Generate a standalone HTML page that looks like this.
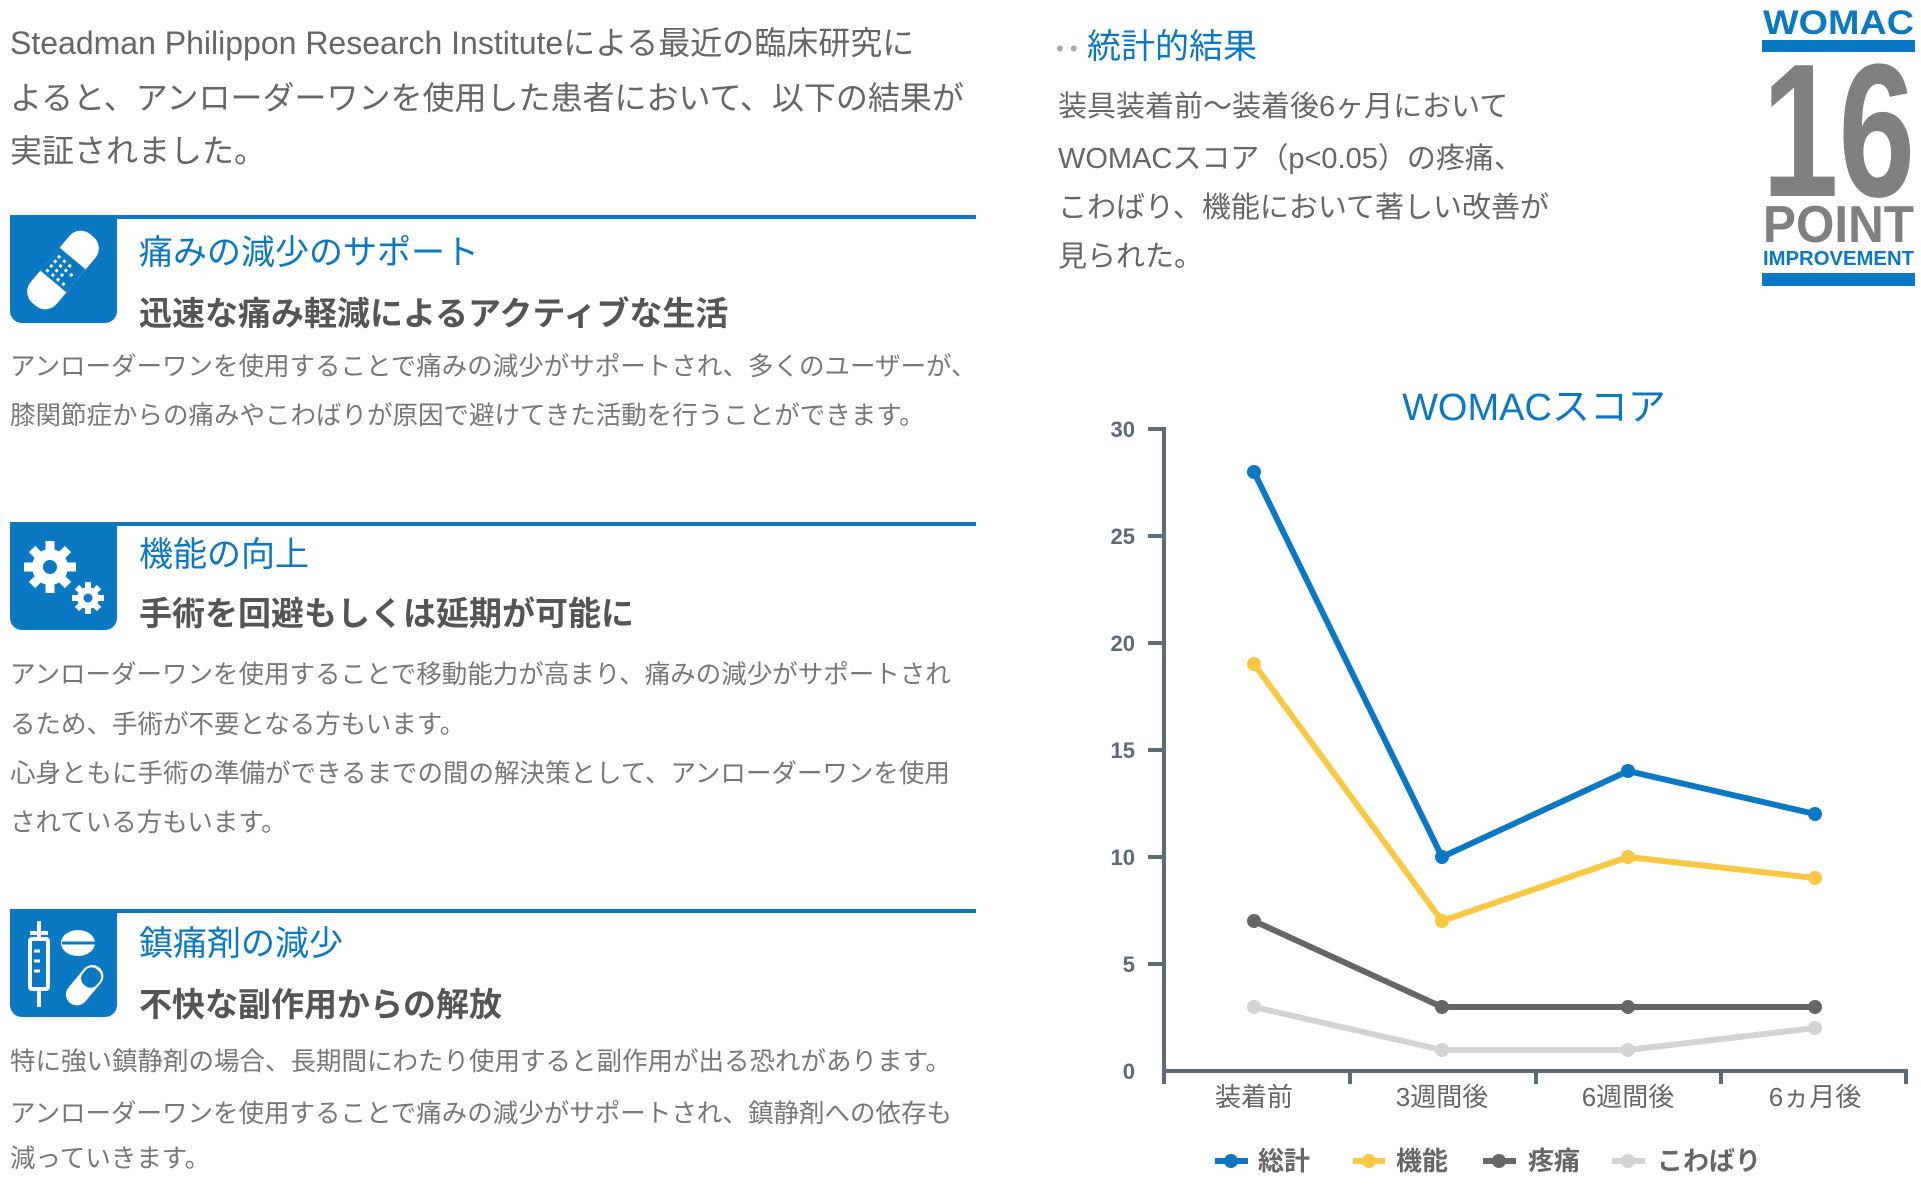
<!DOCTYPE html>
<html><head><meta charset="utf-8"><style>
html,body{margin:0;padding:0;background:#fff;}
body{width:1921px;height:1189px;position:relative;overflow:hidden;font-family:"Liberation Sans","Noto Sans CJK JP",sans-serif;}
.t{position:absolute;white-space:nowrap;line-height:1;}
.p{color:#666;font-size:32px;left:10px;}
.bl{position:absolute;left:10px;width:966px;height:4px;background:#0a78c2;}
.ic{position:absolute;left:10px;width:107px;height:106px;background:#0a78c2;border-radius:0 0 12px 12px;}
.h{color:#0a78c2;font-size:34px;left:139px;}
.s{color:#555;font-size:33px;font-weight:bold;left:139px;}
.b{color:#777;font-size:25.5px;left:10px;}
.r{color:#666;font-size:29px;left:1058px;}
</style></head><body>
<div class="t p" style="top:27px">Steadman Philippon Research Instituteによる最近の臨床研究に</div>
<div class="t p" style="top:82px">よると、アンローダーワンを使用した患者において、以下の結果が</div>
<div class="t p" style="top:135px">実証されました。</div>

<div class="bl" style="top:215px"></div>
<div class="ic" style="top:217px"><svg width="107" height="106" viewBox="0 0 107 106"><g transform="rotate(-50 53 53)"><rect x="8" y="36" width="90" height="34" rx="15" fill="#fff"/><rect x="38" y="36" width="30" height="34" fill="#0a78c2"/><g fill="#fff"><rect x="41" y="40" width="3" height="3"/><rect x="47" y="40" width="3" height="3"/><rect x="53" y="40" width="3" height="3"/><rect x="59" y="40" width="3" height="3"/><rect x="41" y="47" width="3" height="3"/><rect x="47" y="47" width="3" height="3"/><rect x="53" y="47" width="3" height="3"/><rect x="59" y="47" width="3" height="3"/><rect x="41" y="54" width="3" height="3"/><rect x="47" y="54" width="3" height="3"/><rect x="53" y="54" width="3" height="3"/><rect x="59" y="54" width="3" height="3"/><rect x="41" y="61" width="3" height="3"/><rect x="53" y="61" width="3" height="3"/></g></g></svg></div>
<div class="t h" style="top:236px">痛みの減少のサポート</div>
<div class="t s" style="top:297px">迅速な痛み軽減によるアクティブな生活</div>
<div class="t b" style="top:355px">アンローダーワンを使用することで痛みの減少がサポートされ、多くのユーザーが、</div>
<div class="t b" style="top:404px">膝関節症からの痛みやこわばりが原因で避けてきた活動を行うことができます。</div>

<div class="bl" style="top:522px"></div>
<div class="ic" style="top:524px"><svg width="107" height="106" viewBox="0 0 107 106"><g fill="#fff"><circle cx="40" cy="43" r="18"/><g stroke="#fff" stroke-width="9"><line x1="40" y1="17" x2="40" y2="69"/><line x1="14" y1="43" x2="66" y2="43"/><line x1="22" y1="25" x2="58" y2="61"/><line x1="58" y1="25" x2="22" y2="61"/></g><circle cx="78" cy="74" r="11"/><g stroke="#fff" stroke-width="6"><line x1="78" y1="58" x2="78" y2="90"/><line x1="62" y1="74" x2="94" y2="74"/><line x1="67" y1="63" x2="89" y2="85"/><line x1="89" y1="63" x2="67" y2="85"/></g></g><circle cx="40" cy="43" r="7" fill="#0a78c2"/><circle cx="78" cy="74" r="4.5" fill="#0a78c2"/></svg></div>
<div class="t h" style="top:538px">機能の向上</div>
<div class="t s" style="top:597px">手術を回避もしくは延期が可能に</div>
<div class="t b" style="top:663px">アンローダーワンを使用することで移動能力が高まり、痛みの減少がサポートされ</div>
<div class="t b" style="top:713px">るため、手術が不要となる方もいます。</div>
<div class="t b" style="top:762px">心身ともに手術の準備ができるまでの間の解決策として、アンローダーワンを使用</div>
<div class="t b" style="top:811px">されている方もいます。</div>

<div class="bl" style="top:909px"></div>
<div class="ic" style="top:911px"><svg width="107" height="106" viewBox="0 0 107 106"><g fill="none" stroke="#fff" stroke-width="4"><rect x="20" y="28" width="18" height="50" rx="2"/><line x1="29" y1="10" x2="29" y2="28"/><line x1="20" y1="22" x2="38" y2="22"/><line x1="29" y1="78" x2="29" y2="96"/></g><g stroke="#fff" stroke-width="3"><line x1="24" y1="40" x2="30" y2="40"/><line x1="24" y1="50" x2="30" y2="50"/><line x1="24" y1="60" x2="30" y2="60"/></g><ellipse cx="68" cy="32" rx="17" ry="13" fill="#fff"/><line x1="52" y1="32" x2="85" y2="32" stroke="#0a78c2" stroke-width="3"/><g transform="rotate(-50 74 75)"><rect x="52" y="64" width="46" height="22" rx="11" fill="#fff"/><rect x="75" y="66" width="20" height="18" rx="8" fill="#0a78c2"/></g></svg></div>
<div class="t h" style="top:927px">鎮痛剤の減少</div>
<div class="t s" style="top:988px">不快な副作用からの解放</div>
<div class="t b" style="top:1050px">特に強い鎮静剤の場合、長期間にわたり使用すると副作用が出る恐れがあります。</div>
<div class="t b" style="top:1102px">アンローダーワンを使用することで痛みの減少がサポートされ、鎮静剤への依存も</div>
<div class="t b" style="top:1147px">減っていきます。</div>

<div class="t" style="left:1056px;top:30px;font-size:34px;color:#0a78c2"><span style="color:#aaa;font-size:22px;vertical-align:middle">• •</span> 統計的結果</div>
<div class="t r" style="top:93px">装具装着前〜装着後6ヶ月において</div>
<div class="t r" style="top:145px">WOMACスコア（p&lt;0.05）の疼痛、</div>
<div class="t r" style="top:194px">こわばり、機能において著しい改善が</div>
<div class="t r" style="top:243px">見られた。</div>

<svg style="position:absolute;left:1762px;top:0" width="153" height="290" font-family="Liberation Sans,sans-serif" font-weight="bold">
<text x="1" y="34" font-size="34" fill="#0a78c2" textLength="151" lengthAdjust="spacingAndGlyphs">WOMAC</text>
<rect x="0" y="40" width="153" height="12" fill="#0a78c2"/>
<text x="0" y="196" font-size="190" fill="#808080" textLength="153" lengthAdjust="spacingAndGlyphs">16</text>
<text x="1" y="242" font-size="52" fill="#808080" textLength="151" lengthAdjust="spacingAndGlyphs">POINT</text>
<text x="1" y="265" font-size="20" fill="#0a78c2" textLength="151" lengthAdjust="spacingAndGlyphs">IMPROVEMENT</text>
<rect x="0" y="273" width="153" height="13" fill="#0a78c2"/>
</svg>

<svg style="position:absolute;left:0;top:0" width="1921" height="1189">
<text x="1534" y="420" text-anchor="middle" font-size="38" fill="#0a78c2" font-family="Liberation Sans,Noto Sans CJK JP,sans-serif">WOMACスコア</text>
<g stroke="#5f6b73" stroke-width="4" fill="none">
<line x1="1164" y1="427" x2="1164" y2="1084"/>
<line x1="1162" y1="1071" x2="1906" y2="1071"/>
<line x1="1906" y1="1069" x2="1906" y2="1084"/>
<line x1="1350" y1="1069" x2="1350" y2="1084"/>
<line x1="1536" y1="1069" x2="1536" y2="1084"/>
<line x1="1721" y1="1069" x2="1721" y2="1084"/>
<line x1="1148" y1="429" x2="1164" y2="429"/>
<line x1="1148" y1="536" x2="1164" y2="536"/>
<line x1="1148" y1="643" x2="1164" y2="643"/>
<line x1="1148" y1="750" x2="1164" y2="750"/>
<line x1="1148" y1="857" x2="1164" y2="857"/>
<line x1="1148" y1="964" x2="1164" y2="964"/>
</g>
<g font-size="22" font-weight="bold" fill="#5f6b73" text-anchor="end" font-family="Liberation Sans,sans-serif">
<text x="1135" y="437">30</text><text x="1135" y="544">25</text><text x="1135" y="651">20</text><text x="1135" y="758">15</text><text x="1135" y="865">10</text><text x="1135" y="972">5</text><text x="1135" y="1079">0</text>
</g>
<g font-size="26" fill="#666" text-anchor="middle" font-family="Liberation Sans,Noto Sans CJK JP,sans-serif">
<text x="1254" y="1106">装着前</text><text x="1442" y="1106">3週間後</text><text x="1628" y="1106">6週間後</text><text x="1815" y="1106">6ヵ月後</text>
</g>
<g stroke-width="6" fill="none" stroke-linejoin="round">
<polyline stroke="#d3d3d3" points="1254,1007 1442,1050 1628,1050 1815,1028"/>
<polyline stroke="#666" points="1254,921 1442,1007 1628,1007 1815,1007"/>
<polyline stroke="#f9c842" points="1254,664 1442,921 1628,857 1815,878"/>
<polyline stroke="#0a78c2" points="1254,472 1442,857 1628,771 1815,814"/>
</g>
<g fill="#d3d3d3"><circle cx="1254" cy="1007" r="7"/><circle cx="1442" cy="1050" r="7"/><circle cx="1628" cy="1050" r="7"/><circle cx="1815" cy="1028" r="7"/></g>
<g fill="#666"><circle cx="1254" cy="921" r="7"/><circle cx="1442" cy="1007" r="7"/><circle cx="1628" cy="1007" r="7"/><circle cx="1815" cy="1007" r="7"/></g>
<g fill="#f9c842"><circle cx="1254" cy="664" r="7"/><circle cx="1442" cy="921" r="7"/><circle cx="1628" cy="857" r="7"/><circle cx="1815" cy="878" r="7"/></g>
<g fill="#0a78c2"><circle cx="1254" cy="472" r="7"/><circle cx="1442" cy="857" r="7"/><circle cx="1628" cy="771" r="7"/><circle cx="1815" cy="814" r="7"/></g>
<g stroke-width="6"><line x1="1215" y1="1161" x2="1248" y2="1161" stroke="#0a78c2"/><line x1="1353" y1="1161" x2="1385" y2="1161" stroke="#f9c842"/><line x1="1483" y1="1161" x2="1516" y2="1161" stroke="#666"/><line x1="1612" y1="1161" x2="1645" y2="1161" stroke="#d3d3d3"/></g>
<circle cx="1231" cy="1161" r="7" fill="#0a78c2"/><circle cx="1369" cy="1161" r="7" fill="#f9c842"/><circle cx="1499" cy="1161" r="7" fill="#666"/><circle cx="1628" cy="1161" r="7" fill="#d3d3d3"/>
<g font-size="26" font-weight="bold" fill="#666" font-family="Liberation Sans,Noto Sans CJK JP,sans-serif">
<text x="1258" y="1170">総計</text><text x="1396" y="1170">機能</text><text x="1528" y="1170">疼痛</text><text x="1657" y="1170">こわばり</text>
</g>
</svg>
</body></html>
